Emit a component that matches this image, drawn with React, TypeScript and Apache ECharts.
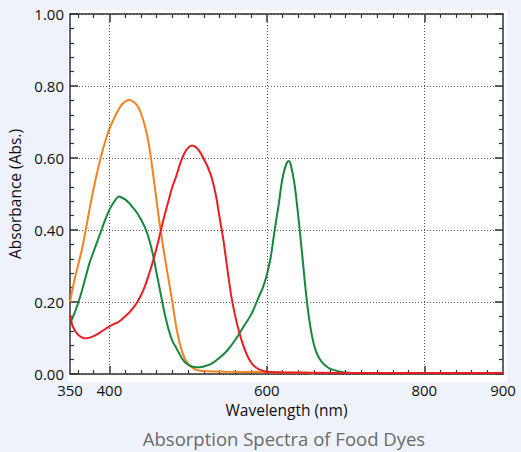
import React, { useEffect, useRef } from "react";
import * as echarts from "echarts";

// Yellow dye (orange curve)
const orangeNm = [350, 355, 360, 365, 370, 375, 380, 385, 390, 395, 400, 405, 410, 415, 420, 425, 430, 435, 440, 445, 450, 455, 460, 465, 470, 475, 480, 485, 490, 495, 500, 505, 510, 520, 550, 600, 650, 660];
const orangeAbs = [0.2, 0.255, 0.3, 0.345, 0.4, 0.46, 0.515, 0.565, 0.61, 0.648, 0.68, 0.706, 0.728, 0.746, 0.757, 0.762, 0.757, 0.747, 0.725, 0.69, 0.64, 0.565, 0.48, 0.4, 0.33, 0.265, 0.2, 0.13, 0.08, 0.047, 0.028, 0.018, 0.012, 0.008, 0.006, 0.005, 0.004, 0.0];

// Green dye (green curve)
const greenNm = [350, 355, 360, 365, 370, 375, 380, 385, 390, 395, 400, 405, 410, 413, 415, 420, 425, 430, 435, 440, 445, 450, 455, 460, 465, 470, 475, 480, 485, 490, 495, 500, 505, 510, 515, 520, 530, 540, 550, 560, 570, 580, 590, 595, 600, 605, 610, 615, 620, 625, 628, 630, 635, 640, 645, 650, 655, 660, 665, 670, 675, 680, 690, 700, 710];
const greenAbs = [0.14, 0.165, 0.195, 0.23, 0.27, 0.31, 0.34, 0.37, 0.4, 0.43, 0.456, 0.475, 0.49, 0.493, 0.491, 0.485, 0.475, 0.462, 0.448, 0.43, 0.408, 0.378, 0.335, 0.28, 0.225, 0.17, 0.125, 0.092, 0.072, 0.052, 0.035, 0.026, 0.021, 0.019, 0.019, 0.021, 0.029, 0.045, 0.066, 0.095, 0.13, 0.165, 0.215, 0.24, 0.275, 0.325, 0.4, 0.47, 0.545, 0.585, 0.592, 0.585, 0.53, 0.437, 0.33, 0.22, 0.135, 0.08, 0.05, 0.033, 0.022, 0.015, 0.008, 0.004, 0.002];

// Red dye (red curve)
const redNm = [350, 353, 357, 360, 365, 370, 375, 380, 385, 390, 395, 400, 405, 410, 415, 420, 425, 430, 435, 440, 445, 450, 455, 460, 465, 470, 475, 480, 485, 490, 495, 500, 505, 510, 515, 520, 525, 530, 535, 540, 545, 550, 555, 560, 565, 570, 575, 580, 585, 590, 595, 600, 620, 700, 800, 900];
const redAbs = [0.165, 0.135, 0.118, 0.11, 0.102, 0.099, 0.101, 0.105, 0.111, 0.118, 0.125, 0.132, 0.138, 0.143, 0.15, 0.16, 0.17, 0.183, 0.198, 0.218, 0.243, 0.275, 0.31, 0.35, 0.395, 0.44, 0.48, 0.52, 0.55, 0.585, 0.612, 0.628, 0.635, 0.63, 0.617, 0.597, 0.575, 0.545, 0.5, 0.435, 0.37, 0.29, 0.215, 0.16, 0.115, 0.08, 0.052, 0.032, 0.02, 0.013, 0.009, 0.006, 0.004, 0.003, 0.003, 0.003];

const xLabelValues = [350, 400, 600, 800, 900];
const xMajorTicks = [400, 600, 800];
const xMinorTicks = [360, 380, 420, 440, 460, 480, 500, 520, 540, 560, 580, 620, 640, 660, 680, 700, 720, 740, 760, 780, 820, 840, 860, 880];
const xGridValues = [400, 600, 800];

const FONT = "'Open Sans', 'Noto Sans', sans-serif";
const AXIS_COLOR = "#333";
const TICK_FS = 15;

const zip = (xs: number[], ys: number[]) => xs.map((x, i) => [x, ys[i]]);

export default function App() {
  const ref = useRef<HTMLDivElement>(null);
  useEffect(() => {
    const chart = echarts.init(ref.current!, null, { renderer: "svg" });
    const baseX = {
      type: "value",
      min: 350,
      max: 900,
      splitLine: { show: false },
      axisLine: { show: false, onZero: false },
      axisLabel: { show: false },
      axisTick: { show: false },
    };
    const majorX = (position: string, withLabels: boolean) => ({
      ...baseX,
      position,
      axisLine: { show: true, onZero: false, lineStyle: { color: AXIS_COLOR, width: 1.5 } },
      axisTick: { show: true, inside: true, length: 8, customValues: xMajorTicks, lineStyle: { color: AXIS_COLOR, width: 1.5 } },
      axisLabel: withLabels
        ? { show: true, customValues: xLabelValues, color: "#111", fontSize: TICK_FS, fontFamily: FONT, margin: 8 }
        : { show: false },
    });
    const minorX = (position: string) => ({
      ...baseX,
      position,
      axisTick: { show: true, inside: true, length: 4, customValues: xMinorTicks, lineStyle: { color: AXIS_COLOR, width: 1.2 } },
    });
    const yAx = (position: string, main: boolean) => ({
      type: "value",
      position,
      min: 0,
      max: 1,
      interval: 0.2,
      axisLine: { show: true, onZero: false, lineStyle: { color: AXIS_COLOR, width: 1.5 } },
      axisTick: { show: true, inside: true, length: 8, lineStyle: { color: AXIS_COLOR, width: 1.5 } },
      minorTick: { show: true, splitNumber: 5, length: 4, lineStyle: { color: AXIS_COLOR, width: 1.2 } },
      axisLabel: main
        ? { show: true, color: "#111", fontSize: TICK_FS, fontFamily: FONT, margin: 6, formatter: (v: number) => v.toFixed(2) }
        : { show: false },
      splitLine: main
        ? { show: true, lineStyle: { color: "#555", width: 1, type: [1, 2] } }
        : { show: false },
      name: main ? "Absorbance (Abs.)" : "",
      nameLocation: "middle",
      nameGap: 37,
      nameRotate: 90,
      nameTextStyle: { color: "#111", fontSize: 15.5, fontFamily: FONT },
    });

    chart.setOption({
      animation: false,
      backgroundColor: "#eef2fa",
      grid: { left: 70, right: 18, top: 14, bottom: 78, containLabel: false, outerBoundsMode: "none" },
      graphic: [
        { type: "rect", z: -10, silent: true, shape: { x: 68, y: 10, width: 439, height: 372 }, style: { fill: "#ffffff" } },
        {
          type: "text",
          x: 284,
          y: 438,
          silent: true,
          style: {
            text: "Absorption Spectra of Food Dyes",
            fill: "#6b6b6b",
            fontSize: 18.5,
            fontFamily: FONT,
            align: "center",
            verticalAlign: "middle",
            textAlign: "center",
            textVerticalAlign: "middle",
          },
        },
      ],
      xAxis: [
        {
          ...majorX("bottom", true),
          name: "Wavelength (nm)",
          nameLocation: "middle",
          nameGap: 26,
          nameTextStyle: { color: "#111", fontSize: 15.5, fontFamily: FONT },
        },
        minorX("bottom"),
        majorX("top", false),
        minorX("top"),
      ],
      yAxis: [yAx("left", true), yAx("right", false)],
      series: [
        {
          type: "line",
          data: [],
          z: 1,
          silent: true,
          markLine: {
            silent: true,
            symbol: ["none", "none"],
            label: { show: false },
            lineStyle: { color: "#555", width: 1, type: [1, 2] },
            data: xGridValues.map((v) => ({ xAxis: v })),
          },
        },
        {
          name: "Yellow",
          type: "line",
          data: zip(orangeNm, orangeAbs),
          showSymbol: false,
          smooth: 0.3,
          lineStyle: { color: "#f5821f", width: 2 },
          itemStyle: { color: "#f5821f" },
        },
        {
          name: "Green",
          type: "line",
          data: zip(greenNm, greenAbs),
          showSymbol: false,
          smooth: 0.3,
          lineStyle: { color: "#17873d", width: 2 },
          itemStyle: { color: "#17873d" },
        },
        {
          name: "Red",
          type: "line",
          data: zip(redNm, redAbs),
          showSymbol: false,
          smooth: 0.3,
          lineStyle: { color: "#ec1c24", width: 2 },
          itemStyle: { color: "#ec1c24" },
        },
      ],
    });
    return () => chart.dispose();
  }, []);
  return (
    <div
      ref={ref}
      style={{ position: "fixed", left: 0, top: 0, width: 521, height: 452, background: "#eef2fa" }}
    />
  );
}
